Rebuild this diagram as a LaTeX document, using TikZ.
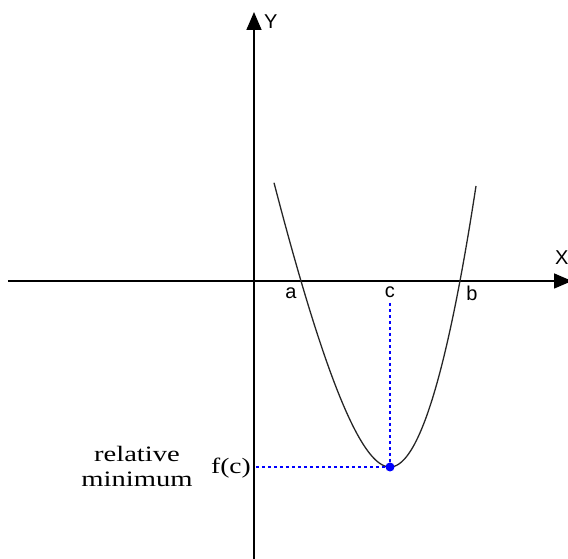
\documentclass[tikz,border=0pt]{standalone}
\usepackage{fontspec}
\usepackage{graphicx}
\setmainfont{Liberation Serif}
\newfontfamily\axisfont{Liberation Sans}
\usetikzlibrary{arrows.meta}

\begin{document}
\begin{tikzpicture}[x=1pt, y=1pt,
  axis/.style={line width=1.6pt, -{Triangle[length=18pt,width=15pt]}},
  curve/.style={line width=1.3pt, black!85},
  guide/.style={blue, line width=1.8pt, dash pattern=on 3pt off 3pt},
  axislabel/.style={font=\axisfont\fontsize{20}{20}\selectfont, inner sep=0pt},
  textlabel/.style={font=\fontsize{22}{25}\selectfont, inner sep=0pt, align=center}]
  \useasboundingbox (-254,-278) rectangle (314,281);
  % axes
  \coordinate (xl) at (-246,0);
  \coordinate (xr) at (318,0);
  \coordinate (yb) at (0,-280);
  \coordinate (yt) at (0,269);
  \draw[axis] (xl) -- (xr);
  \draw[axis] (yb) -- (yt);
  \node[axislabel, anchor=west] (ylab) at (10,259) {Y};
  \node[axislabel, anchor=west] (xlab) at (301,23) {X};
  % the curve, two halves meeting at the minimum
  \draw[curve] plot[domain=116:0, samples=60] ({136-\x},{-186+0.0371*\x*\x/(1+0.00652*\x)})
    -- plot[domain=0:86, samples=50] ({136+\x},{-186+0.038*\x*\x});
  % roots and minimum
  \node[axislabel] (alab) at (37,-12) {a};
  \node[axislabel] (blab) at (218,-12) {b};
  \node[axislabel] (clab) at (136,-11) {c};
  \coordinate (cmin) at (136,-186);
  \coordinate (fcaxis) at (2,-186);
  \coordinate (ctop) at (136,-22);
  \draw[guide] (ctop) -- (cmin);
  \draw[guide] (fcaxis) -- (cmin);
  \fill[blue] (cmin) circle (4.5);
  \node[textlabel, anchor=east] (fclab) at (-3,-187) {\scalebox{1.25}[1]{f(c)}};
  \node[textlabel] (minlab) at (-117,-185) {\scalebox{1.3}[1]{relative}\\\scalebox{1.3}[1]{minimum}};
\end{tikzpicture}
\end{document}
